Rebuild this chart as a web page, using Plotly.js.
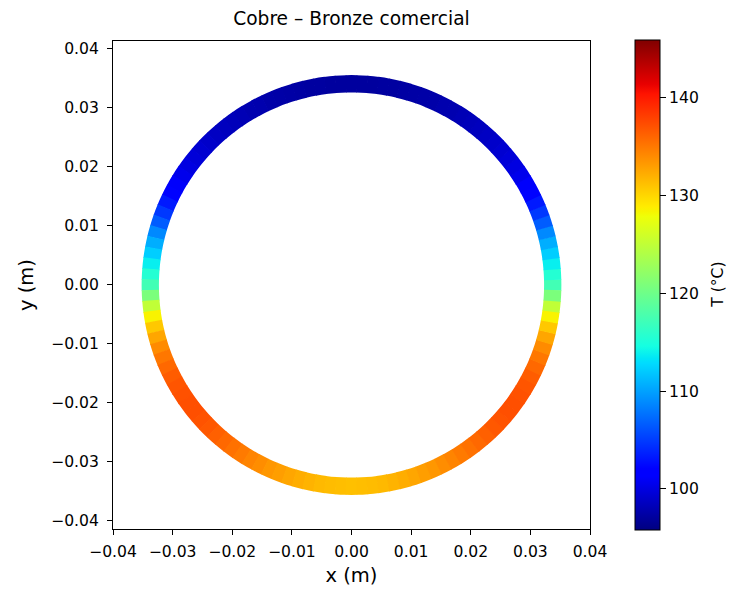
<!DOCTYPE html>
<html>
<head>
<meta charset="utf-8">
<script src="https://cdn.plot.ly/plotly-3.0.1.min.js"></script>
<style>
  html, body { margin: 0; padding: 0; background: #fff; }
  #chart { width: 730px; height: 592px; }
</style>
</head>
<body>
<div id="chart"></div>
<script>
// Angular positions of the wall nodes (degrees, counter-clockwise from +x)
const thetaDeg = [
  0, 3, 6, 9, 12, 15, 18, 21, 24, 27, 30, 33, 36, 39, 42, 45, 48, 51, 54, 57,
  60, 63, 66, 69, 72, 75, 78, 81, 84, 87, 90, 93, 96, 99, 102, 105, 108, 111, 114, 117,
  120, 123, 126, 129, 132, 135, 138, 141, 144, 147, 150, 153, 156, 159, 162, 165, 168, 171, 174, 177,
  180, 183, 186, 189, 192, 195, 198, 201, 204, 207, 210, 213, 216, 219, 222, 225, 228, 231, 234, 237,
  240, 243, 246, 249, 252, 255, 258, 261, 264, 267, 270, 273, 276, 279, 282, 285, 288, 291, 294, 297,
  300, 303, 306, 309, 312, 315, 318, 321, 324, 327, 330, 333, 336, 339, 342, 345, 348, 351, 354, 357
];

// Wall temperature at each angular position (°C)
const tempC = [
  117.3, 115.5, 113.8, 112.2, 110.6, 108.8, 106.6, 104.8, 103.3, 102.1,
  101.2, 100.5, 100.0, 99.6, 99.3, 99.0, 98.7, 98.5, 98.3, 98.1,
  97.9, 97.8, 97.6, 97.5, 97.4, 97.3, 97.2, 97.2, 97.1, 97.1,
  97.1, 97.1, 97.1, 97.2, 97.2, 97.3, 97.4, 97.5, 97.6, 97.8,
  97.9, 98.1, 98.3, 98.5, 98.7, 99.0, 99.3, 99.6, 100.0, 100.5,
  101.2, 102.1, 103.3, 104.8, 106.6, 108.8, 110.6, 112.2, 113.8, 115.5,
  117.3, 120.8, 125.0, 128.5, 130.8, 132.6, 134.0, 135.1, 135.9, 136.5,
  136.9, 137.1, 137.2, 137.2, 137.0, 136.7, 136.3, 135.9, 135.4, 134.9,
  134.4, 133.9, 133.4, 133.0, 132.6, 132.2, 131.9, 131.6, 131.4, 131.3,
  131.2, 131.3, 131.4, 131.6, 131.9, 132.2, 132.6, 133.0, 133.4, 133.9,
  134.4, 134.9, 135.4, 135.9, 136.3, 136.7, 137.0, 137.2, 137.2, 137.1,
  136.9, 136.5, 135.9, 135.1, 134.0, 132.6, 130.8, 128.5, 125.0, 120.8
];

// Tube wall: inner radius and wall thickness (m)
const innerRadius = 0.0323;
const wallThickness = 0.0029;

// Colour limits of the temperature scale (°C) and tick positions
const tRange = [95.8, 145.9];
const cbTicks = [100, 110, 120, 130, 140];
const axisTicks = [-0.04, -0.03, -0.02, -0.01, 0.00, 0.01, 0.02, 0.03, 0.04];

// Classic "jet" colormap stops
const jet = [
  [0.000, 'rgb(0,0,128)'],
  [0.110, 'rgb(0,0,255)'],
  [0.125, 'rgb(0,0,255)'],
  [0.340, 'rgb(0,219,255)'],
  [0.350, 'rgb(0,230,247)'],
  [0.375, 'rgb(21,255,226)'],
  [0.640, 'rgb(239,255,8)'],
  [0.650, 'rgb(247,245,0)'],
  [0.660, 'rgb(255,236,0)'],
  [0.890, 'rgb(255,19,0)'],
  [0.910, 'rgb(232,0,0)'],
  [1.000, 'rgb(128,0,0)']
];

const family = 'DejaVu Sans, sans-serif';
const f = size => ({ family: family, size: size, color: '#000' });

// Wall ring: one annular sector per node, coloured by temperature
const ring = {
  type: 'barpolar',
  theta: thetaDeg,
  r: thetaDeg.map(() => wallThickness),
  base: innerRadius,
  width: 3.2,
  hoverinfo: 'skip',
  marker: {
    color: tempC,
    colorscale: jet,
    cmin: tRange[0],
    cmax: tRange[1],
    line: { width: 0 },
    showscale: true,
    colorbar: {
      x: 1.0943,
      xanchor: 'left',
      xpad: 0,
      y: 0.5,
      yanchor: 'middle',
      ypad: 0,
      len: 1.004,
      thickness: 25,
      outlinewidth: 1,
      outlinecolor: '#000',
      tickvals: cbTicks,
      ticks: 'outside',
      ticklen: 6,
      tickwidth: 1,
      tickcolor: '#000',
      tickfont: f(15.6),
      title: { text: '' }
    }
  }
};

// Carrier for the cartesian x/y frame
const frame = { type: 'scatter', mode: 'markers', x: [], y: [], hoverinfo: 'skip', showlegend: false };

const axisCommon = {
  tickvals: axisTicks,
  tickformat: '.2f',
  ticks: 'outside',
  ticklen: 5,
  tickwidth: 1,
  tickcolor: '#000',
  showline: true,
  linecolor: '#000',
  linewidth: 1,
  mirror: true,
  showgrid: false,
  zeroline: false,
  tickfont: f(15.6)
};

const layout = {
  width: 730,
  height: 592,
  margin: { l: 113, r: 140, t: 41, b: 63 },
  paper_bgcolor: '#fff',
  plot_bgcolor: '#fff',
  showlegend: false,
  title: {
    text: 'Cobre – Bronze comercial',
    font: f(18.6),
    x: 0.5, xref: 'paper', xanchor: 'center',
    y: 0.968, yref: 'container', yanchor: 'middle'
  },
  xaxis: Object.assign({}, axisCommon, {
    range: [-0.04, 0.04],
    ticklabelstandoff: 3,
    title: { text: 'x (m)', font: f(19.5), standoff: 8 }
  }),
  yaxis: Object.assign({}, axisCommon, {
    range: [-0.0414, 0.0413],
    ticklabelstandoff: 5,
    title: { text: 'y (m)', font: f(19.5), standoff: 12 }
  }),
  polar: {
    domain: { x: [0, 1], y: [0, 1] },
    bgcolor: 'rgba(0,0,0,0)',
    radialaxis: { range: [0, 0.04], visible: false, showgrid: false, showline: false },
    angularaxis: { visible: false, showgrid: false, showline: false, rotation: 0, direction: 'counterclockwise' }
  },
  annotations: [{
    text: 'T (°C)',
    textangle: -90,
    font: f(15.6),
    xref: 'paper', yref: 'paper',
    x: 1.268, y: 0.5,
    xanchor: 'center', yanchor: 'middle',
    showarrow: false
  }]
};

Plotly.newPlot('chart', [frame, ring], layout, { displayModeBar: false, staticPlot: true });
</script>
</body>
</html>
